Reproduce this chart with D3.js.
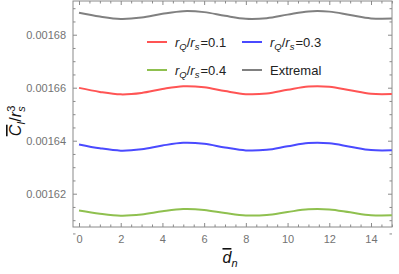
<!DOCTYPE html>
<html><head><meta charset="utf-8">
<script src="https://cdn.jsdelivr.net/npm/d3@7"></script>
<style>
body{margin:0;background:#fff;}
svg{display:block;}
text{font-family:"Liberation Sans",Arial,sans-serif;}
</style></head>
<body><svg id="c" width="399" height="274"></svg>
<script>
const dn = [0,1,2,3,4,5,6,7,8,9,10,11,12,13,14,15];
const extremal = [0.00168829,0.00168684,0.00168594,0.00168645,0.00168788,0.00168889,0.00168852,0.00168713,0.00168601,0.00168624,0.00168758,0.00168879,0.00168871,0.00168743,0.00168615,0.00168607];
const r01 = [0.00165993,0.00165842,0.00165749,0.00165802,0.00165951,0.00166056,0.00166018,0.00165873,0.00165757,0.00165780,0.00165920,0.00166045,0.00166037,0.00165904,0.00165771,0.00165763];
const r03 = [0.00163860,0.00163714,0.00163625,0.00163676,0.00163819,0.00163920,0.00163883,0.00163744,0.00163632,0.00163655,0.00163789,0.00163910,0.00163902,0.00163774,0.00163646,0.00163638];
const r04 = [0.00161368,0.00161246,0.00161171,0.00161214,0.00161334,0.00161418,0.00161387,0.00161271,0.00161178,0.00161196,0.00161309,0.00161409,0.00161403,0.00161296,0.00161189,0.00161183];
const xTicks = [0,2,4,6,8,10,12,14];
const yTicks = [0.00162,0.00164,0.00166,0.00168];
const yTickLabels = ["0.00162","0.00164","0.00166","0.00168"];
const seriesNames = ["0.1","0.3","0.4","Extremal"];

const svg = d3.select("#c");
const L=73,R=392,T=1,B=227;
const x = d3.scaleLinear().domain([-0.288,15.007]).range([L,R]);
const y = d3.scaleLinear().domain([0.00160743,0.00169272]).range([B,T]);
const frame="#8a8a8a", lab="#737373";

const xMinor = d3.range(0,15.01,0.5).filter(v=>!xTicks.includes(v));
const yMinor = d3.range(0,18).map(i=>0.001605+i*0.000005).filter(v=>v<0.00169272 && !yTicks.some(t=>Math.abs(t-v)<1e-9));

function styleAxis(g){g.select(".domain").remove();g.selectAll("line").attr("stroke",frame);g.selectAll("text").attr("fill",lab).style("font-size","11px");}

svg.append("g").attr("transform",`translate(0,${B})`).call(d3.axisBottom(x).tickValues(xTicks).tickSize(-4).tickPadding(8)).call(styleAxis);
svg.append("g").attr("transform",`translate(0,${B})`).call(d3.axisBottom(x).tickValues(xMinor).tickSize(-2.5).tickFormat("")).call(styleAxis);
svg.append("g").attr("transform",`translate(0,${T})`).call(d3.axisTop(x).tickValues(xTicks).tickSize(-4).tickFormat("")).call(styleAxis);
svg.append("g").attr("transform",`translate(0,${T})`).call(d3.axisTop(x).tickValues(xMinor).tickSize(-2.5).tickFormat("")).call(styleAxis);
svg.append("g").attr("transform",`translate(${L},0)`).call(d3.axisLeft(y).tickValues(yTicks).tickSize(-4).tickPadding(7).tickFormat((d,i)=>yTickLabels[i])).call(styleAxis);
svg.append("g").attr("transform",`translate(${L},0)`).call(d3.axisLeft(y).tickValues(yMinor).tickSize(-2.5).tickFormat("")).call(styleAxis);
svg.append("g").attr("transform",`translate(${R},0)`).call(d3.axisRight(y).tickValues(yTicks).tickSize(-4).tickFormat("")).call(styleAxis);
svg.append("g").attr("transform",`translate(${R},0)`).call(d3.axisRight(y).tickValues(yMinor).tickSize(-2.5).tickFormat("")).call(styleAxis);

svg.append("rect").attr("x",L).attr("y",T).attr("width",R-L).attr("height",B-T).attr("fill","none").attr("stroke",frame).attr("stroke-width",1);

const series = [
 {vals:r01,color:"#ff5454"},
 {vals:r03,color:"#4a4aff"},
 {vals:r04,color:"#8fc04f"},
 {vals:extremal,color:"#808080"}
];
const line = d3.line().x((d,i)=>x(dn[i])).y(d=>y(d)).curve(d3.curveCatmullRom);
series.forEach(s=>{
  svg.append("path").attr("d",line(s.vals)).attr("fill","none").attr("stroke",s.color).attr("stroke-width",2);
});

// legend
const pos=[[147,42],[242,42],[147,70],[242,70]];
series.forEach((s,i)=>{
  const [lx,ly]=pos[i];
  svg.append("line").attr("x1",lx).attr("x2",lx+20).attr("y1",ly).attr("y2",ly).attr("stroke",s.color).attr("stroke-width",2);
  const t=svg.append("text").attr("x",lx+28).attr("y",ly+4.5).style("font-size","13px").attr("fill","#222");
  if(seriesNames[i]==="Extremal"){t.text("Extremal");}
  else{
    t.append("tspan").style("font-style","italic").text("r");
    t.append("tspan").style("font-style","italic").style("font-size","9.5px").attr("dy",3).text("Q");
    t.append("tspan").attr("dy",-3).text("/");
    t.append("tspan").style("font-style","italic").text("r");
    t.append("tspan").style("font-style","italic").style("font-size","9.5px").attr("dy",3).text("s");
    t.append("tspan").attr("dy",-3).attr("dx",1).text("="+seriesNames[i]);
  }
});

// x label
const xl=svg.append("text").attr("x",230).attr("y",263).attr("text-anchor","middle").style("font-size","16px").attr("fill","#111");
xl.append("tspan").style("font-style","italic").style("text-decoration","overline").text("d");
xl.append("tspan").style("font-style","italic").style("font-size","11px").attr("dy",4).text("n");

// y label
const yl=svg.append("text").attr("transform","translate(21,121) rotate(-90)").attr("text-anchor","middle").style("font-size","16px").attr("fill","#111");
yl.append("tspan").style("font-style","italic").style("text-decoration","overline").text("C");
yl.append("tspan").style("font-style","italic").style("font-size","11px").attr("dy",4).text("I");
yl.append("tspan").attr("dy",-4).text("/");
yl.append("tspan").style("font-style","italic").text("r");
yl.append("tspan").style("font-size","11px").attr("dy",-6).text("3");
yl.append("tspan").style("font-style","italic").style("font-size","11px").attr("dx",-6).attr("dy",10).text("s");
</script></body></html>
